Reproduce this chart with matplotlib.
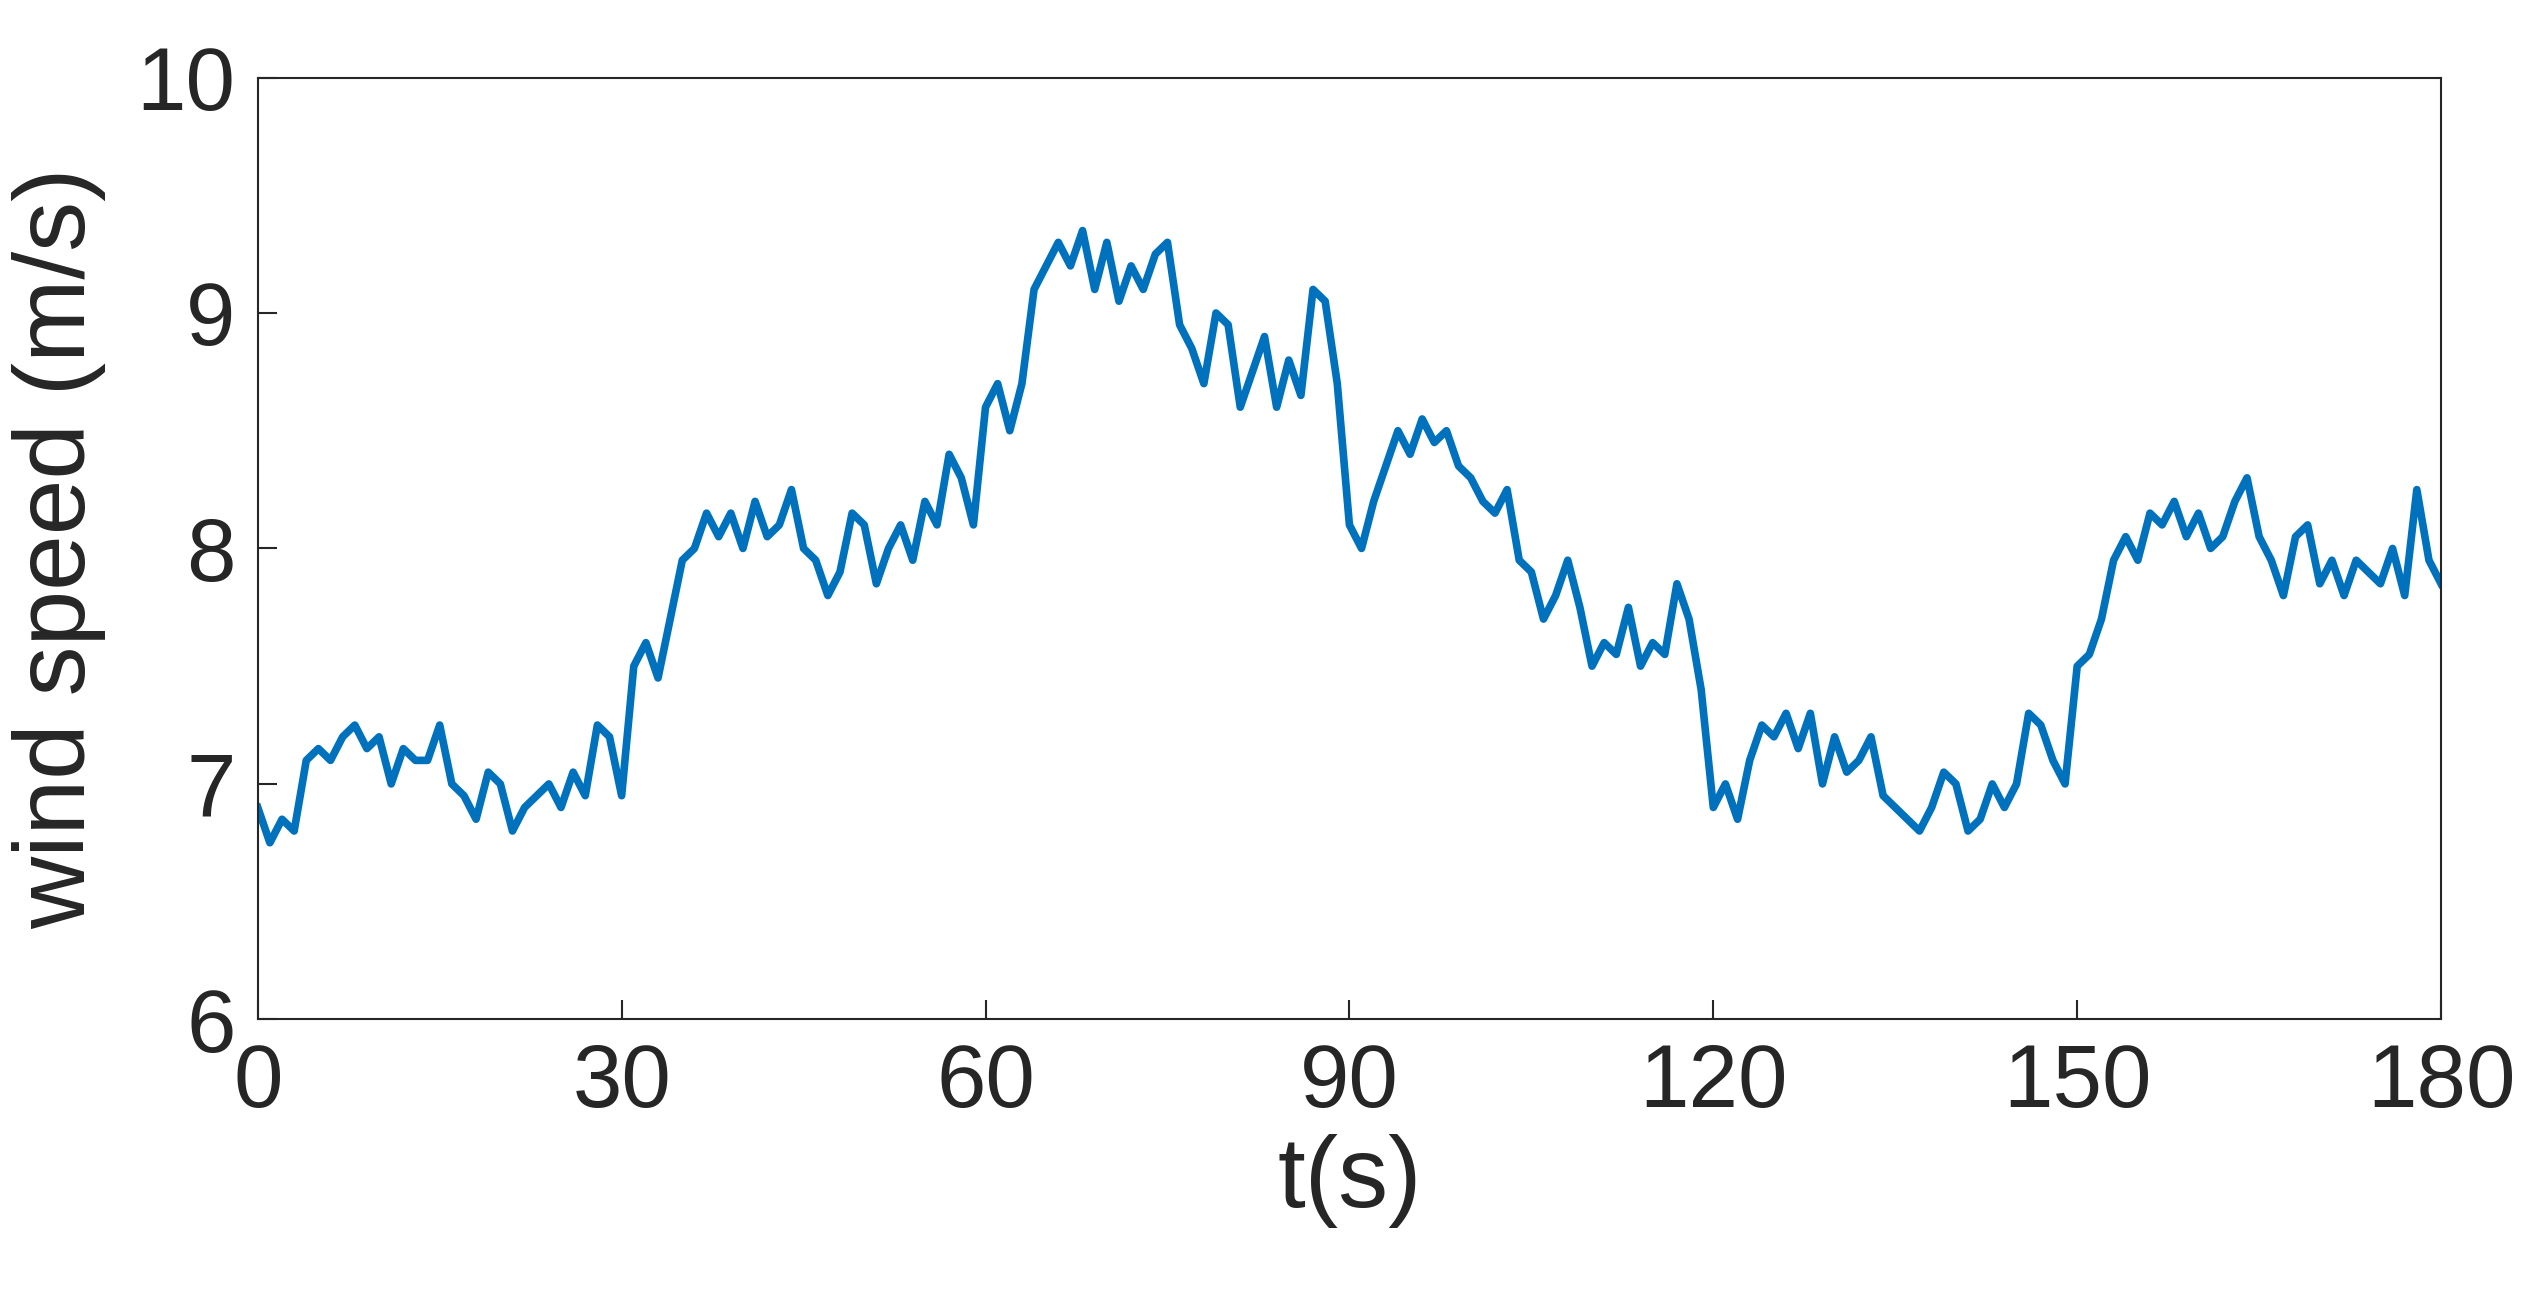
import matplotlib
matplotlib.use("Agg")
import matplotlib.pyplot as plt

# wind speed, one value per second
t = list(range(0, 181))
wind = [
    6.9, 6.75, 6.85, 6.8, 7.1, 7.15, 7.1, 7.2, 7.25, 7.15,
    7.2, 7.0, 7.15, 7.1, 7.1, 7.25, 7.0, 6.95, 6.85, 7.05,
    7.0, 6.8, 6.9, 6.95, 7.0, 6.9, 7.05, 6.95, 7.25, 7.2,
    6.95, 7.5, 7.6, 7.45, 7.7, 7.95, 8.0, 8.15, 8.05, 8.15,
    8.0, 8.2, 8.05, 8.1, 8.25, 8.0, 7.95, 7.8, 7.9, 8.15,
    8.1, 7.85, 8.0, 8.1, 7.95, 8.2, 8.1, 8.4, 8.3, 8.1,
    8.6, 8.7, 8.5, 8.7, 9.1, 9.2, 9.3, 9.2, 9.35, 9.1,
    9.3, 9.05, 9.2, 9.1, 9.25, 9.3, 8.95, 8.85, 8.7, 9.0,
    8.95, 8.6, 8.75, 8.9, 8.6, 8.8, 8.65, 9.1, 9.05, 8.7,
    8.1, 8.0, 8.2, 8.35, 8.5, 8.4, 8.55, 8.45, 8.5, 8.35,
    8.3, 8.2, 8.15, 8.25, 7.95, 7.9, 7.7, 7.8, 7.95, 7.75,
    7.5, 7.6, 7.55, 7.75, 7.5, 7.6, 7.55, 7.85, 7.7, 7.4,
    6.9, 7.0, 6.85, 7.1, 7.25, 7.2, 7.3, 7.15, 7.3, 7.0,
    7.2, 7.05, 7.1, 7.2, 6.95, 6.9, 6.85, 6.8, 6.9, 7.05,
    7.0, 6.8, 6.85, 7.0, 6.9, 7.0, 7.3, 7.25, 7.1, 7.0,
    7.5, 7.55, 7.7, 7.95, 8.05, 7.95, 8.15, 8.1, 8.2, 8.05,
    8.15, 8.0, 8.05, 8.2, 8.3, 8.05, 7.95, 7.8, 8.05, 8.1,
    7.85, 7.95, 7.8, 7.95, 7.9, 7.85, 8.0, 7.8, 8.25, 7.95,
    7.85,
]
x_ticks = [0, 30, 60, 90, 120, 150, 180]
y_ticks = [6, 7, 8, 9, 10]

plt.rcParams["font.family"] = ["Liberation Sans", "DejaVu Sans"]

fig = plt.figure(figsize=(25.27, 12.92), dpi=100)
ax = fig.add_axes([0.102, 0.211, 0.864, 0.729])
ax.plot(t, wind, color="#0072BD", linewidth=5.5)
ax.set_xlim(0, 180)
ax.set_ylim(6, 10)
ax.set_xticks(x_ticks)
ax.set_yticks(y_ticks)
ax.tick_params(labelsize=64, colors="#262626", direction="in", length=14, width=1.5, pad=16)
for s in ax.spines.values():
    s.set_color("#262626")
    s.set_linewidth(1.5)
ax.set_xlabel("t(s)", fontsize=72, color="#262626", labelpad=6)
ax.set_ylabel("wind speed (m/s)", fontsize=72, color="#262626", labelpad=22)

fig.savefig("out.png", dpi=100)
